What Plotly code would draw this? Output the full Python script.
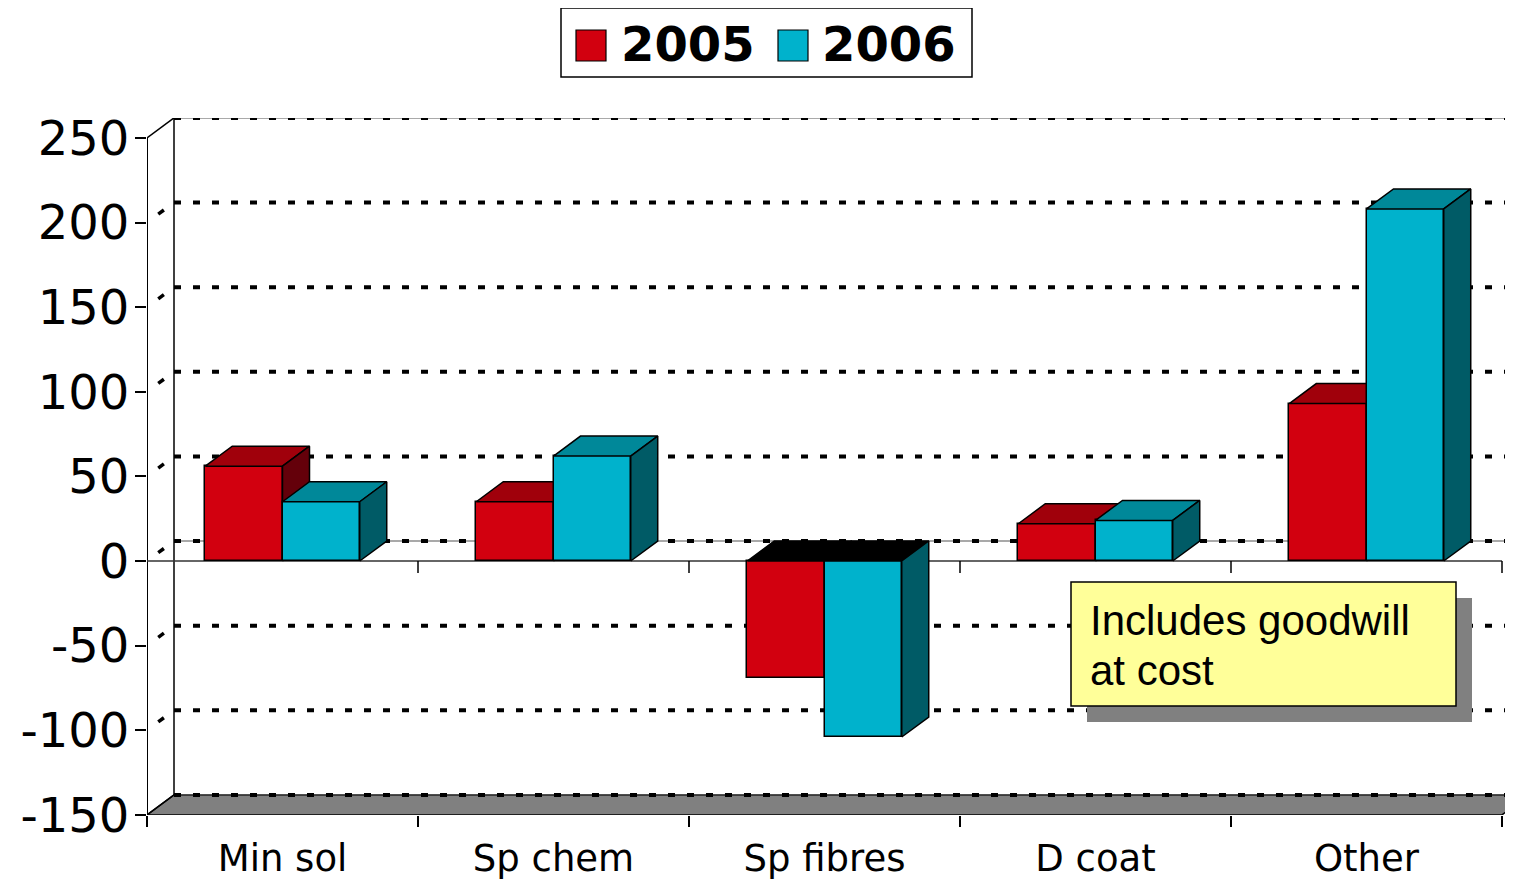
import plotly.graph_objects as go

# ---------------- data ----------------
categories = ["Min sol", "Sp chem", "Sp fibres", "D coat", "Other"]
values_2005 = [56, 35, -69, 22, 93]
values_2006 = [35, 62, -104, 24, 208]
series_names = ["2005", "2006"]
y_tick_values = [-150, -100, -50, 0, 50, 100, 150, 200, 250]
y_tick_labels = ["-150", "-100", "-50", "0", "50", "100", "150", "200", "250"]
note_lines = ["Includes goodwill", "at cost"]

# ---------------- geometry / style ----------------
PAGE_MARGIN = 8                            # default body margin of the html page
W, H = 1513 - PAGE_MARGIN, 881 - PAGE_MARGIN
L, R, T, B = 147, 1513, 118, 815           # plot area in window px
AXIS_END_PX = 1502
cat_px = (AXIS_END_PX - L) / len(categories)
XMIN = -0.5
XMAX = len(categories) - 0.5 + (R - AXIS_END_PX) / cat_px
px_per_unit = 1.6925
zero_px = 561
YMAX = (zero_px - T) / px_per_unit
YMIN = -(B - zero_px) / px_per_unit
DX = 27 / cat_px          # depth offset (x units)
DY = 20 / px_per_unit     # depth offset (y units)
BAR_W = 0.285
FLOOR = y_tick_values[0]
TOP = y_tick_values[-1]

styles = [
    dict(front="#D2000F", top="#A0000B", side="#64000A", off=-BAR_W, xa="x", ya="y"),
    dict(front="#00B2CC", top="#008899", side="#005B66", off=0.0, xa="x2", ya="y2"),
]
all_values = [values_2005, values_2006]

def px_x(p):
    return (p - L) / (R - L)

def px_y(p):
    return (B - p) / (B - T)

fig = go.Figure()

for vals, name, st in zip(all_values, series_names, styles):
    xs = list(range(len(categories)))
    fig.add_trace(go.Bar(
        x=xs, y=vals, width=BAR_W, offset=st["off"], name=name,
        marker=dict(color=st["front"], line=dict(color="black", width=1.5)),
        xaxis=st["xa"], yaxis=st["ya"], showlegend=False,
        hovertemplate=name + " %{y}<extra></extra>",
    ))
    for i, v in enumerate(vals):
        x0 = i + st["off"]
        x1 = x0 + BAR_W
        if v >= 0:
            tx = [x0, x1, x1 + DX, x0 + DX, x0]
            ty = [v, v, v + DY, v + DY, v]
            tc = st["top"]
            sx = [x1, x1, x1 + DX, x1 + DX, x1]
            sy = [0, v, v + DY, DY, 0]
        else:
            tx = [x0, x1, x1 + DX, x0 + DX, x0]
            ty = [0, 0, DY, DY, 0]
            tc = "black"
            sx = [x1, x1, x1 + DX, x1 + DX, x1]
            sy = [v, 0, DY, v + DY, v]
        for px_, py_, col in ((tx, ty, tc), (sx, sy, st["side"])):
            fig.add_trace(go.Scatter(
                x=px_, y=py_, mode="lines", fill="toself", fillcolor=col,
                line=dict(color="black", width=1.5),
                xaxis=st["xa"], yaxis=st["ya"], hoverinfo="skip", showlegend=False,
            ))

shapes = []
DOT = "7px,12px"
# floor
shapes.append(dict(
    type="path", xref="x", yref="y", layer="below",
    path=f"M {XMIN},{FLOOR} L {len(categories)-0.5},{FLOOR} L {len(categories)-0.5+DX},{FLOOR+DY} L {XMIN+DX},{FLOOR+DY} Z",
    fillcolor="#808080", line=dict(color="black", width=1.5),
))
# back wall gridlines
for v in y_tick_values:
    if v in (0, TOP, FLOOR):
        shapes.append(dict(type="line", xref="x", yref="y", layer="below",
                           x0=XMIN + DX, x1=XMAX + 1, y0=v + DY, y1=v + DY,
                           line=dict(color="#555555", width=1.2)))
    shapes.append(dict(type="line", xref="x", yref="y", layer="below",
                       x0=XMIN + DX, x1=XMAX + 1, y0=v + DY, y1=v + DY,
                       line=dict(color="black", width=4, dash=DOT)))
    # diagonal connectors from front ticks to back wall
    if v in (TOP, FLOOR):
        shapes.append(dict(type="line", xref="x", yref="y", layer="below",
                           x0=XMIN, x1=XMIN + DX, y0=v, y1=v + DY,
                           line=dict(color="black", width=1.5)))
    else:
        shapes.append(dict(type="line", xref="x", yref="y", layer="below",
                           x0=XMIN, x1=XMIN + DX, y0=v, y1=v + DY,
                           line=dict(color="black", width=3.5, dash="0px,14px,7px,40px")))
# back wall left edge
shapes.append(dict(type="line", xref="x", yref="y", layer="below",
                   x0=XMIN + DX, x1=XMIN + DX, y0=FLOOR + DY, y1=TOP + DY,
                   line=dict(color="black", width=1.5)))
# front value axis
shapes.append(dict(type="line", xref="x", yref="y", layer="below",
                   x0=XMIN, x1=XMIN, y0=FLOOR, y1=TOP,
                   line=dict(color="black", width=2)))
# zero line at the front, with category ticks
shapes.append(dict(type="line", xref="x", yref="y", layer="below",
                   x0=XMIN, x1=len(categories) - 0.5, y0=0, y1=0,
                   line=dict(color="#333333", width=1.5)))
boundaries = [k - 0.5 for k in range(len(categories) + 1)]
for b in boundaries[1:]:
    shapes.append(dict(type="line", xref="x", yref="y", layer="below",
                       x0=b, x1=b, y0=0, y1=-12 / px_per_unit,
                       line=dict(color="black", width=1.5)))

# note box (shadow + box)
shapes.append(dict(type="rect", xref="paper", yref="paper", layer="above",
                   x0=px_x(1087), x1=px_x(1472), y0=px_y(722), y1=px_y(598),
                   fillcolor="#808080", line=dict(width=0)))
shapes.append(dict(type="rect", xref="paper", yref="paper", layer="above",
                   x0=px_x(1071), x1=px_x(1456), y0=px_y(706), y1=px_y(582),
                   fillcolor="#FFFF99", line=dict(color="black", width=1.5)))

# manual legend
shapes.append(dict(type="rect", xref="paper", yref="paper", layer="above",
                   x0=px_x(561), x1=px_x(972), y0=px_y(77), y1=px_y(8),
                   fillcolor="white", line=dict(color="black", width=1.5)))
legend_pos = [(576, 619), (778, 820)]
annotations = []
for (sq, tx), name, st in zip(legend_pos, series_names, styles):
    shapes.append(dict(type="rect", xref="paper", yref="paper", layer="above",
                       x0=px_x(sq), x1=px_x(sq + 30), y0=px_y(61), y1=px_y(30),
                       fillcolor=st["front"], line=dict(color="black", width=1.2)))
    annotations.append(dict(xref="paper", yref="paper", x=px_x(tx), y=px_y(44),
                            xanchor="left", yanchor="middle", showarrow=False,
                            text="<b>" + name + "</b>",
                            font=dict(family="DejaVu Sans", size=48, color="black")))

for k, line in enumerate(note_lines):
    annotations.append(dict(xref="paper", yref="paper", x=px_x(1088), y=px_y(620 + 50 * k),
                            xanchor="left", yanchor="middle", showarrow=False,
                            text=line,
                            font=dict(family="Liberation Sans", size=42, color="black")))

fig.update_layout(
    width=W, height=H,
    margin=dict(l=L - PAGE_MARGIN, r=(1513 - PAGE_MARGIN) - (R - PAGE_MARGIN) + (W - (1513 - PAGE_MARGIN)),
                t=T - PAGE_MARGIN, b=H - (B - PAGE_MARGIN), pad=0),
    paper_bgcolor="white", plot_bgcolor="rgba(0,0,0,0)",
    showlegend=False,
    shapes=shapes, annotations=annotations,
    xaxis=dict(range=[XMIN, XMAX], tickmode="array", tickvals=list(range(len(categories))),
               ticktext=categories, ticks="", showgrid=False, zeroline=False, showline=False,
               tickfont=dict(family="DejaVu Sans", size=37, color="black"),
               ticklabelstandoff=18,
               minor=dict(tickmode="array", tickvals=boundaries, ticks="outside",
                          ticklen=11, tickwidth=1.5, tickcolor="black", showgrid=False),
               fixedrange=True),
    yaxis=dict(range=[YMIN, YMAX], tickmode="array", tickvals=y_tick_values,
               ticktext=y_tick_labels, ticks="outside", ticklen=11, tickwidth=2,
               tickcolor="black", showgrid=False, zeroline=False, showline=False,
               tickfont=dict(family="DejaVu Sans", size=48, color="black"),
               ticklabelstandoff=-4, fixedrange=True),
    xaxis2=dict(range=[XMIN, XMAX], overlaying="x", anchor="y2", visible=False, fixedrange=True),
    yaxis2=dict(range=[YMIN, YMAX], overlaying="y", anchor="x2", visible=False, fixedrange=True),
    bargap=0, barmode="overlay",
)

fig.write_html("out.html")
